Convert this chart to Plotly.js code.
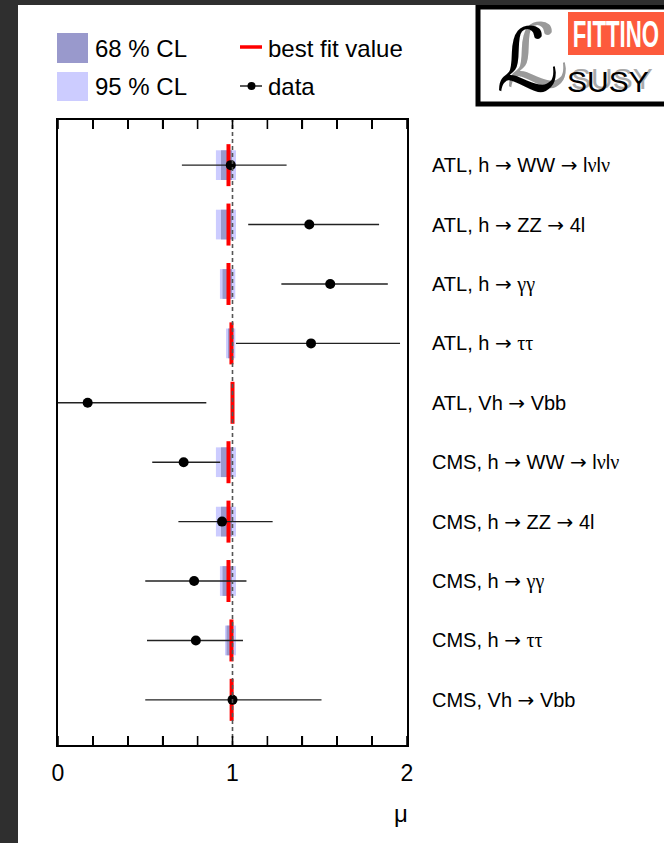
<!DOCTYPE html>
<html><head><meta charset="utf-8">
<script src="https://cdn.plot.ly/plotly-3.0.1.min.js"></script>
<style>
html,body{margin:0;padding:0;background:#2f2f2f;width:664px;height:843px;overflow:hidden;}
#chart{position:absolute;left:18px;top:5px;width:646px;height:838px;background:#fff;}
</style></head><body><div id="chart"></div>
<script>
// ---- data ----
const categories = [
  'ATL, h \u2192 WW \u2192 l\u03bdl\u03bd',
  'ATL, h \u2192 ZZ \u2192 4l',
  'ATL, h \u2192 \u03b3\u03b3',
  'ATL, h \u2192 \u03c4\u03c4',
  'ATL, Vh \u2192 Vbb',
  'CMS, h \u2192 WW \u2192 l\u03bdl\u03bd',
  'CMS, h \u2192 ZZ \u2192 4l',
  'CMS, h \u2192 \u03b3\u03b3',
  'CMS, h \u2192 \u03c4\u03c4',
  'CMS, Vh \u2192 Vbb'
];
const dataMu   = [0.99, 1.44, 1.56, 1.45, 0.17, 0.72, 0.94, 0.78, 0.79, 1.00];
const dataLow  = [0.71, 1.09, 1.28, 1.02, -0.45, 0.54, 0.69, 0.50, 0.51, 0.50];
const dataHigh = [1.31, 1.84, 1.89, 1.96, 0.85, 0.93, 1.23, 1.08, 1.06, 1.51];
const bestFit  = [0.977, 0.977, 0.977, 0.994, 1.00, 0.977, 0.977, 0.977, 0.994, 0.995];
const cl68Low  = [0.934, 0.934, 0.943, 0.974, 0.995, 0.934, 0.934, 0.943, 0.966, 0.993];
const cl68High = [0.997, 0.997, 0.997, 1.003, 1.003, 0.997, 0.997, 0.997, 1.003, 1.000];
const cl95Low  = [0.905, 0.905, 0.928, 0.963, 0.993, 0.905, 0.905, 0.928, 0.957, 0.990];
const cl95High = [1.020, 1.020, 1.016, 1.016, 1.005, 1.020, 1.020, 1.020, 1.020, 1.003];
const xTickVals = [0, 0.2, 0.4, 0.6, 0.8, 1, 1.2, 1.4, 1.6, 1.8, 2];
const xTickText = ['0', '', '', '', '', '1', '', '', '', '', '2'];
const refMu = 1;
const xAxisTitle = '\u03bc';
const legendLabels = ['68 % CL', '95 % CL', 'best fit value', 'data'];

// ---- colours ----
const C68 = '#9999cc', C95 = '#ccccff', CRED = '#ff0000';

// label styling: symbol-like arrows and Greek letters (as in ROOT's Symbol font)
const styleLabel = s => s
  .replace(/\u2192/g, '<span style="font-family:DejaVu Sans">\u2192</span>')
  .replace(/([\u03b3\u03bd\u03c4]+)/g, '<span style="font-family:Liberation Serif">$1</span>');

// page-pixel -> paper helpers (plot area in page px: 58..407, 120..745)
const PL = 58, PR = 407, PT = 120, PB = 745;
const fx = x => (x - PL) / (PR - PL);
const fy = y => (PB - y) / (PB - PT);
const TICK = 9 / (PB - PT);   // tick length (9 px) as a paper fraction

const traces = [
  { type: 'bar', orientation: 'h', y: categories, base: cl95Low,
    x: cl95High.map((h, i) => h - cl95Low[i]), width: 0.5,
    marker: { color: C95, line: { width: 0 } }, hoverinfo: 'skip' },
  { type: 'bar', orientation: 'h', y: categories, base: cl68Low,
    x: cl68High.map((h, i) => h - cl68Low[i]), width: 0.5,
    marker: { color: C68, line: { width: 0 } }, hoverinfo: 'skip' },
  { type: 'scatter', mode: 'markers', y: categories, x: bestFit,
    marker: { symbol: 'line-ns', size: 30, line: { color: CRED, width: 4 } }, hoverinfo: 'skip' },
  { type: 'scatter', mode: 'markers', y: categories, x: dataMu,
    marker: { color: '#000', size: 10 },
    error_x: { type: 'data', symmetric: false,
      array: dataHigh.map((h, i) => h - dataMu[i]),
      arrayminus: dataMu.map((m, i) => m - dataLow[i]),
      width: 0, thickness: 1.4, color: '#222' } }
];

const txt = (x, y, t, size, extra) => Object.assign({
  xref: 'paper', yref: 'paper', x: fx(x), y: fy(y), text: t, showarrow: false,
  xanchor: 'left', yanchor: 'middle',
  font: { family: 'Liberation Sans, Arial, sans-serif', size: size, color: '#000' }
}, extra || {});

const annotations = [
  txt(93, 48, legendLabels[0], 24),
  txt(93, 86, legendLabels[1], 24),
  txt(266, 48, legendLabels[2], 24),
  txt(266, 86, legendLabels[3], 24),
  txt(401, 813, xAxisTitle, 24, { xanchor: 'center' }),
  // logo
  txt(616, 34, '<b>FITTINO</b>', 37, { xanchor: 'center',
    font: { family: 'Liberation Sans, sans-serif', size: 37, color: '#fff' } }),
  txt(527, 61, '\u2112', 88, { xanchor: 'center',
    font: { family: 'DejaVu Sans, sans-serif', size: 88, color: '#000', shadow: '10px -4px 0px #9a9a9a' } }),
  txt(608, 81, 'SUSY', 30, { xanchor: 'center',
    font: { family: 'Liberation Sans, Arial, sans-serif', size: 30, color: '#000', shadow: '4px -3px 0px #aaaaaa' } })
];

// axis ticks (bottom and mirrored top), placed through the x scale
const tickShapes = [];
xTickVals.forEach(v => {
  tickShapes.push({ type: 'line', xref: 'x', yref: 'paper', x0: v, x1: v, y0: 0, y1: TICK,
    line: { color: '#000', width: 1.6 }, layer: 'above' });
  tickShapes.push({ type: 'line', xref: 'x', yref: 'paper', x0: v, x1: v, y0: 1, y1: 1 - TICK,
    line: { color: '#000', width: 1.6 }, layer: 'above' });
});

const shapes = [
  // reference line at mu = 1
  { type: 'line', xref: 'x', yref: 'paper', x0: refMu, x1: refMu, y0: 0, y1: 1,
    line: { color: '#555', width: 1.6, dash: '4px,3px' }, layer: 'above' },
  ...tickShapes,
  // legend swatches
  { type: 'rect', xref: 'paper', yref: 'paper', x0: fx(57), x1: fx(88), y0: fy(63), y1: fy(33),
    fillcolor: C68, line: { width: 0 } },
  { type: 'rect', xref: 'paper', yref: 'paper', x0: fx(57), x1: fx(88), y0: fy(101), y1: fy(72),
    fillcolor: C95, line: { width: 0 } },
  { type: 'line', xref: 'paper', yref: 'paper', x0: fx(240), x1: fx(262), y0: fy(47), y1: fy(47),
    line: { color: CRED, width: 3.5 } },
  { type: 'line', xref: 'paper', yref: 'paper', x0: fx(240), x1: fx(262), y0: fy(86), y1: fy(86),
    line: { color: '#000', width: 1.3 } },
  { type: 'circle', xref: 'paper', yref: 'paper', x0: fx(247.5), x1: fx(255.5), y0: fy(90), y1: fy(82),
    fillcolor: '#000', line: { width: 0 } },
  // logo box
  { type: 'rect', xref: 'paper', yref: 'paper', x0: fx(478), x1: fx(672), y0: fy(104), y1: fy(7),
    fillcolor: '#fff', line: { color: '#000', width: 5 } },
  { type: 'rect', xref: 'paper', yref: 'paper', x0: fx(568), x1: fx(664), y0: fy(55), y1: fy(12),
    fillcolor: '#fd5a3c', line: { width: 0 } }
];

const layout = {
  width: 646, height: 838,
  margin: { l: 40, r: 257, t: 115, b: 98, pad: 0 },
  paper_bgcolor: '#fff', plot_bgcolor: '#fff',
  showlegend: false, barmode: 'overlay',
  font: { family: 'Liberation Sans, Arial, sans-serif', color: '#000' },
  xaxis: {
    range: [0, 2], tickmode: 'array', tickvals: xTickVals, ticktext: xTickText,
    ticks: 'inside', ticklen: 9, tickwidth: 1.6, tickcolor: '#000',
    showline: true, linewidth: 2, linecolor: '#000', mirror: 'ticks',
    showgrid: false, zeroline: false, ticklabelstandoff: 6,
    tickfont: { size: 23, family: 'Liberation Sans, Arial, sans-serif', color: '#000' }
  },
  yaxis: {
    type: 'category', categoryorder: 'array', categoryarray: categories,
    tickmode: 'array', tickvals: categories, ticktext: categories.map(styleLabel),
    range: [9.76, -0.76], side: 'right',
    showline: true, linewidth: 2, linecolor: '#000', mirror: true,
    ticks: '', showgrid: false, zeroline: false, ticklabelstandoff: 19,
    tickfont: { size: 20, family: 'Liberation Sans, Arial, sans-serif', color: '#000' }
  },
  shapes: shapes,
  annotations: annotations
};

Plotly.newPlot('chart', traces, layout, { displayModeBar: false, staticPlot: true }).then(gd => {
  // condense the FITTINO logo lettering horizontally (narrow typeface look)
  gd.querySelectorAll('.annotation-text').forEach(t => {
    if (t.textContent === 'FITTINO') {
      t.style.transformBox = 'fill-box';
      t.style.transformOrigin = 'center';
      t.style.transform = 'scaleX(0.6)';
    }
  });
});
</script></body></html>
